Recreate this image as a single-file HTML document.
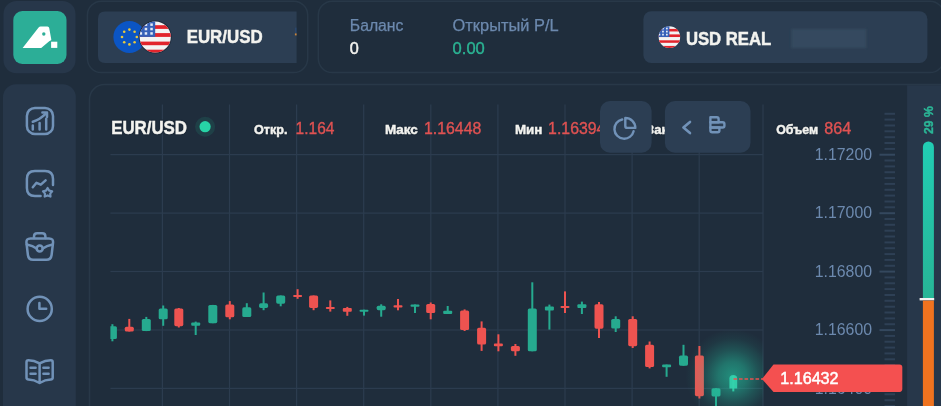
<!DOCTYPE html>
<html><head><meta charset="utf-8"><title>EUR/USD</title>
<style>
html,body{margin:0;padding:0;background:#1f2d3c;overflow:hidden;}
svg{display:block;font-family:"Liberation Sans",sans-serif;filter:blur(0.4px);}
.b{font-weight:bold;}
.m{stroke:#6c89ae;stroke-width:0.25px;}
.o{stroke:#1d2a38;stroke-width:3.2px;stroke-linejoin:round;}
</style></head><body>
<svg width="941" height="406" viewBox="0 0 941 406">
<defs>
<radialGradient id="glow" cx="50%" cy="50%" r="50%">
<stop offset="0" stop-color="#24c9a4" stop-opacity="0.62"/>
<stop offset="0.3" stop-color="#24c9a4" stop-opacity="0.46"/>
<stop offset="0.55" stop-color="#24c9a4" stop-opacity="0.24"/>
<stop offset="0.8" stop-color="#24c9a4" stop-opacity="0.07"/>
<stop offset="1" stop-color="#24c9a4" stop-opacity="0"/>
</radialGradient>
<linearGradient id="gbar" x1="0" y1="0" x2="0" y2="1">
<stop offset="0" stop-color="#21cdb4"/>
<stop offset="1" stop-color="#27b596"/>
</linearGradient>
<clipPath id="usclip"><circle cx="0" cy="0" r="15.6"/></clipPath>
<clipPath id="chartclip"><rect x="110.4" y="100" width="653" height="306"/></clipPath>
<g id="usflag">
<g clip-path="url(#usclip)">
<rect x="-16" y="-16" width="32" height="32" fill="#f3f3f3"/>
<rect x="-16" y="-11.8" width="32" height="3.7" fill="#e2242c"/>
<rect x="-16" y="-3.9" width="32" height="3.8" fill="#e2242c"/>
<rect x="-16" y="4.6" width="32" height="3.6" fill="#e2242c"/>
<rect x="-16" y="12.7" width="32" height="4" fill="#e2242c"/>
<rect x="-16" y="-16" width="16" height="15.9" fill="#3560b8"/>
<g fill="#e3e9f6">
<rect x="-10.5" y="-13.6" width="2.5" height="2.5"/><rect x="-4.9" y="-13.6" width="2.5" height="2.5"/>
<rect x="-10.5" y="-9.2" width="2.5" height="2.5"/><rect x="-4.9" y="-9.2" width="2.5" height="2.5"/>
<rect x="-15.6" y="-4.8" width="2.5" height="2.5"/><rect x="-10.5" y="-4.8" width="2.5" height="2.5"/><rect x="-4.9" y="-4.8" width="2.5" height="2.5"/>
</g>
</g>
</g>
<filter id="bl" x="-10%" y="-20%" width="120%" height="140%"><feGaussianBlur stdDeviation="0.9"/></filter>
</defs>
<rect width="941" height="406" fill="#1f2d3c"/>

<!-- logo -->
<rect x="3.5" y="1" width="72" height="72.3" rx="13" fill="#27374a"/>
<rect x="13.3" y="11" width="53.2" height="52.9" rx="9" fill="#2cae97"/>
<path d="M22.6 47.9 L38.6 27.4 Q39.4 26.4 40.6 26.4 L47.4 26.4 Q49.0 26.4 49.2 28 L51.3 39.6 Q51.4 40.4 50.6 40.6 Q49.5 41 48.6 41.8 L41.2 47.9 Z" fill="#fff"/>
<circle cx="43.8" cy="34" r="1.7" fill="#2cae97"/>
<rect x="51.1" y="41.7" width="6.2" height="6.2" fill="#fff"/>

<!-- sidebar -->
<rect x="3" y="84.3" width="72.8" height="340" rx="13" fill="#27374a"/>

<!-- asset panel -->
<rect x="87.4" y="1.2" width="220.3" height="71.4" rx="14" fill="#1f2d3c" stroke="#283848" stroke-width="1.5"/>
<path d="M105 11.6 H296.6 V63 H105 Q98 63 98 56 V18.6 Q98 11.6 105 11.6 Z" fill="#2c3e53"/>
<circle cx="129.4" cy="37" r="16" fill="#0b55c4"/>
<g fill="#e8c93c">
<circle cx="129.4" cy="29.6" r="1.3"/><circle cx="129.4" cy="44.4" r="1.3"/>
<circle cx="122" cy="37" r="1.3"/><circle cx="136.8" cy="37" r="1.3"/>
<circle cx="124.2" cy="31.8" r="1.3"/><circle cx="134.6" cy="31.8" r="1.3"/>
<circle cx="124.2" cy="42.2" r="1.3"/><circle cx="134.6" cy="42.2" r="1.3"/>
</g>
<circle cx="155.2" cy="37" r="16.5" fill="#1d2a3a"/>
<use href="#usflag" transform="translate(155.2 37)"/>
<text x="186.7" y="42.5" font-size="18" class="b" fill="#f3f3ef" textLength="75.9" lengthAdjust="spacingAndGlyphs" stroke="#f3f3ef" stroke-width="0.45">EUR/USD</text>
<rect x="294.9" y="27.6" width="1.7" height="5.6" fill="#2a4f86" opacity="0.5"/>
<rect x="294.9" y="33.4" width="1.7" height="2" fill="#c9853c"/>

<!-- balance panel -->
<rect x="318.3" y="1.2" width="625.6" height="71.4" rx="14" fill="#1f2d3c" stroke="#283848" stroke-width="1.5"/>
<text x="349.8" y="31" font-size="16" class="m" fill="#6c89ae" textLength="53.6" lengthAdjust="spacingAndGlyphs">Баланс</text>
<text x="349.8" y="53.5" font-size="16.2" fill="#f3f3ef" stroke="#f3f3ef" stroke-width="0.5">0</text>
<text x="452.6" y="31" font-size="16" class="m" fill="#6c89ae" textLength="106" lengthAdjust="spacingAndGlyphs">Открытый P/L</text>
<text x="452.6" y="53.5" font-size="16.2" fill="#2bb393" textLength="32.2" lengthAdjust="spacingAndGlyphs" stroke="#2bb393" stroke-width="0.4">0.00</text>
<rect x="643.4" y="11.2" width="284" height="51.8" rx="8" fill="#2c3e53"/>
<circle cx="669.4" cy="37.1" r="11.1" fill="#243447"/>
<use href="#usflag" transform="translate(669.4 37.1) scale(0.695)"/>
<text x="685.9" y="44.5" font-size="17.7" class="b" fill="#f3f3ef" textLength="85.4" lengthAdjust="spacingAndGlyphs" stroke="#f3f3ef" stroke-width="0.45">USD REAL</text>
<rect x="791.3" y="29" width="75" height="19" fill="#364a5f" filter="url(#bl)"/>

<!-- chart panel -->
<rect x="89.5" y="84.5" width="870" height="340" rx="15" fill="#1f2d3c" stroke="#283848" stroke-width="1.5"/>
<path d="M907.1 85.2 H960 V420 H907.1 Z" fill="#27374a"/>
<rect x="161.8" y="104.5" width="1.2" height="310" fill="#2c3c4f"/>
<rect x="228.9" y="104.5" width="1.2" height="310" fill="#2c3c4f"/>
<rect x="296.0" y="104.5" width="1.2" height="310" fill="#2c3c4f"/>
<rect x="363.1" y="104.5" width="1.2" height="310" fill="#2c3c4f"/>
<rect x="430.2" y="104.5" width="1.2" height="310" fill="#2c3c4f"/>
<rect x="497.3" y="104.5" width="1.2" height="310" fill="#2c3c4f"/>
<rect x="564.4" y="104.5" width="1.2" height="310" fill="#2c3c4f"/>
<rect x="631.5" y="104.5" width="1.2" height="310" fill="#2c3c4f"/>
<rect x="698.6" y="104.5" width="1.2" height="310" fill="#2c3c4f"/>
<rect x="110.4" y="154.0" width="652.6" height="1.2" fill="#2c3c4f"/>
<rect x="110.4" y="212.5" width="652.6" height="1.2" fill="#2c3c4f"/>
<rect x="110.4" y="270.9" width="652.6" height="1.2" fill="#2c3c4f"/>
<rect x="110.4" y="329.4" width="652.6" height="1.2" fill="#2c3c4f"/>
<rect x="110.4" y="387.8" width="652.6" height="1.2" fill="#2c3c4f"/>
<rect x="762.4" y="104.5" width="1.2" height="310" fill="#2c3c4f"/>
<rect x="884.5" y="112.8" width="10.5" height="2" fill="#2e4055"/>
<rect x="884.5" y="118.6" width="10.5" height="2" fill="#2e4055"/>
<rect x="884.5" y="124.5" width="10.5" height="2" fill="#2e4055"/>
<rect x="884.5" y="130.3" width="10.5" height="2" fill="#2e4055"/>
<rect x="884.5" y="136.2" width="10.5" height="2" fill="#2e4055"/>
<rect x="884.5" y="142.0" width="10.5" height="2" fill="#2e4055"/>
<rect x="884.5" y="147.9" width="10.5" height="2" fill="#2e4055"/>
<rect x="879.5" y="153.7" width="15.5" height="2" fill="#34485e"/>
<rect x="884.5" y="159.5" width="10.5" height="2" fill="#2e4055"/>
<rect x="884.5" y="165.4" width="10.5" height="2" fill="#2e4055"/>
<rect x="884.5" y="171.2" width="10.5" height="2" fill="#2e4055"/>
<rect x="884.5" y="177.1" width="10.5" height="2" fill="#2e4055"/>
<rect x="884.5" y="182.9" width="10.5" height="2" fill="#2e4055"/>
<rect x="884.5" y="188.8" width="10.5" height="2" fill="#2e4055"/>
<rect x="884.5" y="194.6" width="10.5" height="2" fill="#2e4055"/>
<rect x="884.5" y="200.5" width="10.5" height="2" fill="#2e4055"/>
<rect x="884.5" y="206.3" width="10.5" height="2" fill="#2e4055"/>
<rect x="879.5" y="212.2" width="15.5" height="2" fill="#34485e"/>
<rect x="884.5" y="218.0" width="10.5" height="2" fill="#2e4055"/>
<rect x="884.5" y="223.8" width="10.5" height="2" fill="#2e4055"/>
<rect x="884.5" y="229.7" width="10.5" height="2" fill="#2e4055"/>
<rect x="884.5" y="235.5" width="10.5" height="2" fill="#2e4055"/>
<rect x="884.5" y="241.4" width="10.5" height="2" fill="#2e4055"/>
<rect x="884.5" y="247.2" width="10.5" height="2" fill="#2e4055"/>
<rect x="884.5" y="253.1" width="10.5" height="2" fill="#2e4055"/>
<rect x="884.5" y="258.9" width="10.5" height="2" fill="#2e4055"/>
<rect x="884.5" y="264.8" width="10.5" height="2" fill="#2e4055"/>
<rect x="879.5" y="270.6" width="15.5" height="2" fill="#34485e"/>
<rect x="884.5" y="276.4" width="10.5" height="2" fill="#2e4055"/>
<rect x="884.5" y="282.3" width="10.5" height="2" fill="#2e4055"/>
<rect x="884.5" y="288.1" width="10.5" height="2" fill="#2e4055"/>
<rect x="884.5" y="294.0" width="10.5" height="2" fill="#2e4055"/>
<rect x="884.5" y="299.8" width="10.5" height="2" fill="#2e4055"/>
<rect x="884.5" y="305.7" width="10.5" height="2" fill="#2e4055"/>
<rect x="884.5" y="311.5" width="10.5" height="2" fill="#2e4055"/>
<rect x="884.5" y="317.4" width="10.5" height="2" fill="#2e4055"/>
<rect x="884.5" y="323.2" width="10.5" height="2" fill="#2e4055"/>
<rect x="879.5" y="329.1" width="15.5" height="2" fill="#34485e"/>
<rect x="884.5" y="334.9" width="10.5" height="2" fill="#2e4055"/>
<rect x="884.5" y="340.7" width="10.5" height="2" fill="#2e4055"/>
<rect x="884.5" y="346.6" width="10.5" height="2" fill="#2e4055"/>
<rect x="884.5" y="352.4" width="10.5" height="2" fill="#2e4055"/>
<rect x="884.5" y="358.3" width="10.5" height="2" fill="#2e4055"/>
<rect x="884.5" y="364.1" width="10.5" height="2" fill="#2e4055"/>
<rect x="884.5" y="370.0" width="10.5" height="2" fill="#2e4055"/>
<rect x="884.5" y="375.8" width="10.5" height="2" fill="#2e4055"/>
<rect x="884.5" y="381.7" width="10.5" height="2" fill="#2e4055"/>
<rect x="879.5" y="387.5" width="15.5" height="2" fill="#34485e"/>
<rect x="884.5" y="393.3" width="10.5" height="2" fill="#2e4055"/>
<rect x="884.5" y="399.2" width="10.5" height="2" fill="#2e4055"/>
<rect x="884.5" y="405.0" width="10.5" height="2" fill="#2e4055"/>
<text x="814.8" y="159.8" font-size="16.2" fill="#6c89ae" textLength="57.2" lengthAdjust="spacingAndGlyphs">1.17200</text>
<text x="814.8" y="218.2" font-size="16.2" fill="#6c89ae" textLength="57.2" lengthAdjust="spacingAndGlyphs">1.17000</text>
<text x="814.8" y="276.7" font-size="16.2" fill="#6c89ae" textLength="57.2" lengthAdjust="spacingAndGlyphs">1.16800</text>
<text x="814.8" y="335.2" font-size="16.2" fill="#6c89ae" textLength="57.2" lengthAdjust="spacingAndGlyphs">1.16600</text>
<text x="814.8" y="393.6" font-size="16.2" fill="#6c89ae" textLength="57.2" lengthAdjust="spacingAndGlyphs">1.16400</text>
<!-- candles -->
<g clip-path="url(#chartclip)">
<rect x="111.4" y="324.2" width="2" height="17.1" fill="#26aa8f"/>
<rect x="107.9" y="326.2" width="9.0" height="12.8" rx="1.6" fill="#26aa8f"/>
<rect x="128.3" y="318.9" width="2" height="12.6" fill="#ee5350"/>
<rect x="124.8" y="326.7" width="9.0" height="4.8" rx="1.6" fill="#ee5350"/>
<rect x="145.3" y="316.9" width="2" height="14.2" fill="#26aa8f"/>
<rect x="141.8" y="318.9" width="9.0" height="12.2" rx="1.6" fill="#26aa8f"/>
<rect x="162.2" y="305.5" width="2" height="20.3" fill="#26aa8f"/>
<rect x="158.7" y="308.4" width="9.0" height="10.9" rx="1.6" fill="#26aa8f"/>
<rect x="177.8" y="308.0" width="2" height="19.5" fill="#ee5350"/>
<rect x="174.3" y="308.4" width="9.0" height="17.8" rx="1.6" fill="#ee5350"/>
<rect x="194.7" y="321.6" width="2" height="13.4" fill="#26aa8f"/>
<rect x="191.2" y="322.6" width="9.0" height="3.2" rx="1.0" fill="#26aa8f"/>
<rect x="211.8" y="304.9" width="2" height="18.3" fill="#26aa8f"/>
<rect x="208.3" y="304.9" width="9.0" height="18.3" rx="1.6" fill="#26aa8f"/>
<rect x="228.8" y="301.1" width="2" height="18.2" fill="#ee5350"/>
<rect x="225.3" y="304.5" width="9.0" height="12.8" rx="1.6" fill="#ee5350"/>
<rect x="245.8" y="303.2" width="2" height="13.8" fill="#26aa8f"/>
<rect x="242.3" y="307.3" width="9.0" height="9.7" rx="1.6" fill="#26aa8f"/>
<rect x="262.6" y="292.5" width="2" height="17.7" fill="#26aa8f"/>
<rect x="259.1" y="303.3" width="9.0" height="4.6" rx="1.6" fill="#26aa8f"/>
<rect x="279.7" y="295.5" width="2" height="10.8" fill="#26aa8f"/>
<rect x="276.2" y="295.5" width="9.0" height="8.2" rx="1.6" fill="#26aa8f"/>
<rect x="296.6" y="289.2" width="2" height="9.6" fill="#ee5350"/>
<rect x="293.1" y="295.0" width="9.0" height="2.0" rx="1.0" fill="#ee5350"/>
<rect x="312.6" y="295.5" width="2" height="14.7" fill="#ee5350"/>
<rect x="309.1" y="295.5" width="9.0" height="12.4" rx="1.6" fill="#ee5350"/>
<rect x="329.3" y="300.4" width="2" height="11.2" fill="#ee5350"/>
<rect x="325.8" y="306.9" width="9.0" height="2.0" rx="1.0" fill="#ee5350"/>
<rect x="346.3" y="306.9" width="2" height="8.9" fill="#ee5350"/>
<rect x="342.8" y="307.9" width="9.0" height="3.9" rx="1.0" fill="#ee5350"/>
<rect x="363.0" y="309.7" width="2" height="5.9" fill="#26aa8f"/>
<rect x="359.5" y="309.7" width="9.0" height="2.0" rx="1.0" fill="#26aa8f"/>
<rect x="380.2" y="304.3" width="2" height="12.4" fill="#26aa8f"/>
<rect x="376.7" y="305.7" width="9.0" height="4.5" rx="1.6" fill="#26aa8f"/>
<rect x="397.0" y="299.0" width="2" height="11.3" fill="#ee5350"/>
<rect x="393.5" y="305.2" width="9.0" height="2.2" rx="1.0" fill="#ee5350"/>
<rect x="414.0" y="304.5" width="2" height="8.5" fill="#26aa8f"/>
<rect x="410.5" y="304.5" width="9.0" height="2.3" rx="1.0" fill="#26aa8f"/>
<rect x="429.7" y="302.5" width="2" height="16.8" fill="#ee5350"/>
<rect x="426.2" y="303.9" width="9.0" height="9.1" rx="1.6" fill="#ee5350"/>
<rect x="446.7" y="306.0" width="2" height="7.9" fill="#26aa8f"/>
<rect x="443.2" y="310.8" width="9.0" height="3.1" rx="1.0" fill="#26aa8f"/>
<rect x="463.6" y="309.4" width="2" height="21.6" fill="#ee5350"/>
<rect x="460.1" y="310.4" width="9.0" height="19.7" rx="1.6" fill="#ee5350"/>
<rect x="480.6" y="321.4" width="2" height="29.5" fill="#ee5350"/>
<rect x="477.1" y="327.8" width="9.0" height="16.8" rx="1.6" fill="#ee5350"/>
<rect x="497.4" y="334.3" width="2" height="17.0" fill="#ee5350"/>
<rect x="493.9" y="343.6" width="9.0" height="2.6" rx="1.0" fill="#ee5350"/>
<rect x="514.4" y="344.0" width="2" height="11.8" fill="#ee5350"/>
<rect x="510.9" y="345.9" width="9.0" height="5.4" rx="1.6" fill="#ee5350"/>
<rect x="531.3" y="282.3" width="2" height="69.0" fill="#26aa8f"/>
<rect x="527.8" y="308.5" width="9.0" height="42.8" rx="1.6" fill="#26aa8f"/>
<rect x="548.4" y="304.6" width="2" height="25.0" fill="#26aa8f"/>
<rect x="544.9" y="306.5" width="9.0" height="4.0" rx="1.0" fill="#26aa8f"/>
<rect x="564.0" y="291.4" width="2" height="21.6" fill="#ee5350"/>
<rect x="560.5" y="306.1" width="9.0" height="2.0" rx="1.0" fill="#ee5350"/>
<rect x="580.9" y="301.6" width="2" height="12.4" fill="#26aa8f"/>
<rect x="577.4" y="304.2" width="9.0" height="3.7" rx="1.0" fill="#26aa8f"/>
<rect x="598.0" y="302.0" width="2" height="36.0" fill="#ee5350"/>
<rect x="594.5" y="304.2" width="9.0" height="24.5" rx="1.6" fill="#ee5350"/>
<rect x="614.7" y="316.3" width="2" height="15.7" fill="#26aa8f"/>
<rect x="611.2" y="319.0" width="9.0" height="9.6" rx="1.6" fill="#26aa8f"/>
<rect x="631.7" y="316.3" width="2" height="31.7" fill="#ee5350"/>
<rect x="628.2" y="319.0" width="9.0" height="27.2" rx="1.6" fill="#ee5350"/>
<rect x="648.6" y="341.5" width="2" height="26.9" fill="#ee5350"/>
<rect x="645.1" y="344.8" width="9.0" height="22.2" rx="1.6" fill="#ee5350"/>
<rect x="665.6" y="364.6" width="2" height="12.2" fill="#26aa8f"/>
<rect x="662.1" y="364.6" width="9.0" height="2.7" rx="1.0" fill="#26aa8f"/>
<rect x="682.5" y="344.8" width="2" height="20.9" fill="#26aa8f"/>
<rect x="679.0" y="355.6" width="9.0" height="10.1" rx="1.6" fill="#26aa8f"/>
<rect x="698.4" y="346.0" width="2" height="52.5" fill="#ee5350"/>
<rect x="694.9" y="355.5" width="9.0" height="40.7" rx="1.6" fill="#ee5350"/>
<rect x="715.0" y="388.2" width="2" height="21.8" fill="#26aa8f"/>
<rect x="711.5" y="388.2" width="9.0" height="8.2" rx="1.6" fill="#26aa8f"/>
<circle cx="732.5" cy="376" r="47" fill="url(#glow)"/>
<rect x="732.3" y="376" width="2" height="15.4" fill="#33d3ac" opacity="0.9"/>
<path d="M729.4 388.6 V378.6 Q729.4 375 733.3 375 Q737.2 375 737.2 378.6 V388.6 Z" fill="#33d3ac" opacity="0.92"/>
</g>
<path d="M733.5 379 H763" stroke="#e8524f" stroke-width="1.6" stroke-dasharray="3.6 1.9" fill="none"/>
<path d="M762 379 L773.5 364.6 H899.5 Q902.3 364.6 902.3 367.4 V389.1 Q902.3 391.9 899.5 391.9 H773.5 Z" fill="#f45050"/>
<text x="780.2" y="384.4" font-size="16.2" fill="#fff" textLength="58.4" lengthAdjust="spacingAndGlyphs" stroke="#fff" stroke-width="0.5">1.16432</text>

<!-- header labels -->
<text x="111.2" y="134" font-size="18.4" class="b o" fill="#1f2d3c" textLength="75.8" lengthAdjust="spacingAndGlyphs">EUR/USD</text><text x="111.2" y="134" font-size="18.4" class="b" fill="#f3f3ef" textLength="75.8" lengthAdjust="spacingAndGlyphs" stroke="#f3f3ef" stroke-width="0.45">EUR/USD</text>
<circle cx="205.1" cy="126.7" r="10" fill="#1f5b58" opacity="0.42"/>
<circle cx="205.1" cy="126.7" r="5.6" fill="#27d3a6"/>
<text x="254" y="133.8" font-size="13" class="b o" fill="#1f2d3c" textLength="33.5" lengthAdjust="spacingAndGlyphs">Откр.</text><text x="254" y="133.8" font-size="13" class="b" fill="#f3f3ef" textLength="33.5" lengthAdjust="spacingAndGlyphs" stroke="#f3f3ef" stroke-width="0.45">Откр.</text>
<text x="295.6" y="133.8" font-size="15.8" fill="#e05252" textLength="38.8" lengthAdjust="spacingAndGlyphs" stroke="#e05252" stroke-width="0.35">1.164</text>
<text x="384.9" y="133.8" font-size="13" class="b o" fill="#1f2d3c" textLength="32.9" lengthAdjust="spacingAndGlyphs">Макс</text><text x="384.9" y="133.8" font-size="13" class="b" fill="#f3f3ef" textLength="32.9" lengthAdjust="spacingAndGlyphs" stroke="#f3f3ef" stroke-width="0.45">Макс</text>
<text x="424" y="133.8" font-size="15.8" fill="#e05252" textLength="57.3" lengthAdjust="spacingAndGlyphs" stroke="#e05252" stroke-width="0.35">1.16448</text>
<text x="515" y="133.8" font-size="13" class="b o" fill="#1f2d3c" textLength="27.4" lengthAdjust="spacingAndGlyphs">Мин</text><text x="515" y="133.8" font-size="13" class="b" fill="#f3f3ef" textLength="27.4" lengthAdjust="spacingAndGlyphs" stroke="#f3f3ef" stroke-width="0.45">Мин</text>
<text x="548.1" y="133.8" font-size="15.8" fill="#e05252" textLength="57.3" lengthAdjust="spacingAndGlyphs" stroke="#e05252" stroke-width="0.35">1.16394</text>
<text x="646" y="133.8" font-size="13" class="b o" fill="#1f2d3c" textLength="33.5" lengthAdjust="spacingAndGlyphs">Закр.</text><text x="646" y="133.8" font-size="13" class="b" fill="#f3f3ef" textLength="33.5" lengthAdjust="spacingAndGlyphs" stroke="#f3f3ef" stroke-width="0.45">Закр.</text>
<text x="776.2" y="134.1" font-size="13" class="b o" fill="#1f2d3c" textLength="42" lengthAdjust="spacingAndGlyphs">Объем</text><text x="776.2" y="134.1" font-size="13" class="b" fill="#f3f3ef" textLength="42" lengthAdjust="spacingAndGlyphs" stroke="#f3f3ef" stroke-width="0.45">Объем</text>
<text x="824.2" y="134.1" font-size="15.8" fill="#e05252" textLength="27" lengthAdjust="spacingAndGlyphs" stroke="#e05252" stroke-width="0.35">864</text>

<!-- buttons -->
<rect x="600" y="101" width="51.6" height="51.7" rx="10" fill="#2c3e53"/>
<rect x="664.9" y="101" width="85.6" height="51.7" rx="10" fill="#2c3e53"/>
<g fill="none" stroke="#7192b8" stroke-width="2.4" stroke-linecap="round" stroke-linejoin="round">
<path d="M622.2 119.5 A9.7 9.7 0 1 0 633.6 131.2"/>
<path d="M625.3 117.9 A10 10 0 0 1 635.3 127.9 L627.3 127.9 Q625.3 127.9 625.3 125.9 Z"/>
<path d="M690 121.9 L683.4 127.5 L690 133.1" stroke-width="2.6"/>
<path d="M710.4 117.3 H716.8 Q718.6 117.3 718.6 119.1 V122.3 H710.4 Z"/>
<path d="M710.4 122.3 H722.6 Q724.4 122.3 724.4 124.1 V125.7 Q724.4 127.5 722.6 127.5 H710.4 Z"/>
<path d="M710.4 127.5 H719.4 V130.4 Q719.4 132.2 717.6 132.2 H712.2 Q710.4 132.2 710.4 130.4 Z"/>
</g>

<!-- right bar -->
<text transform="translate(932.8 134) rotate(-90)" font-size="12.2" class="b" fill="#2bb596" stroke="#2bb596" stroke-width="0.4">29 %</text>
<path d="M922.9 298 V147 A5.5 5.5 0 0 1 933.9 147 V298 Z" fill="url(#gbar)"/>
<rect x="919.6" y="298" width="14.6" height="2.4" fill="#f2f2f2"/>
<rect x="922.9" y="300.6" width="11" height="110" fill="#f0731f"/>

<!-- sidebar icons -->
<g fill="none" stroke="#7192b8" stroke-width="2.5" stroke-linecap="round" stroke-linejoin="round">
<rect x="26.9" y="107.9" width="26.1" height="26.1" rx="8"/>
<path d="M32.8 129.4 V125.6 M39.6 129.4 V123 M46.2 129.4 V118.8"/>
<path d="M32.8 121.8 Q40 119.5 45.8 113.6"/>
<path d="M42.4 112.5 H47 V117"/>

<path d="M40.6 196 H34.9 Q26.9 196 26.9 188 V178.9 Q26.9 170.9 34.9 170.9 H45 Q53 170.9 53 178.9 V185"/>
<path d="M32.8 187.3 L36.5 182.8 L40.8 184.7 L45.6 180.3"/>
<path d="M47.6 188 L49.2 190.6 L52.2 191.3 L50.2 193.6 L50.5 196.6 L47.6 195.4 L44.7 196.6 L45 193.6 L43 191.3 L46 190.6 Z" stroke-width="2.2"/>

<path d="M30.5 238.4 H49 Q53.6 238.4 53 243 L51.6 255 Q51 259.8 46.4 259.8 H33.1 Q28.5 259.8 27.9 255 L26.5 243 Q25.9 238.4 30.5 238.4 Z"/>
<path d="M34 238 V236.4 Q34 233.2 37.2 233.2 H42.2 Q45.4 233.2 45.4 236.4 V238"/>
<path d="M26.8 244.6 Q33 245.8 36.6 248.4 M42.8 248.4 Q46.4 245.8 52.7 244.6"/>
<circle cx="39.7" cy="248.6" r="3"/>

<circle cx="39.7" cy="308.9" r="12.1"/>
<path d="M39.4 303 V308.8 H46.2"/>

<path d="M39.6 363.4 Q34 360.3 28.4 360.3 Q26.5 360.3 26.5 362.2 V377.6 Q26.5 379.5 28.4 379.5 Q34 379.5 39.6 383 Q45.2 379.5 50.8 379.5 Q52.7 379.5 52.7 377.6 V362.2 Q52.7 360.3 50.8 360.3 Q45.2 360.3 39.6 363.4 V383"/>
<path d="M30.5 367.8 H35.6 M30.5 373.8 H35.6 M43.4 367.8 H48.6 M43.4 373.8 H48.6"/>
</g>
</svg>
</body></html>
